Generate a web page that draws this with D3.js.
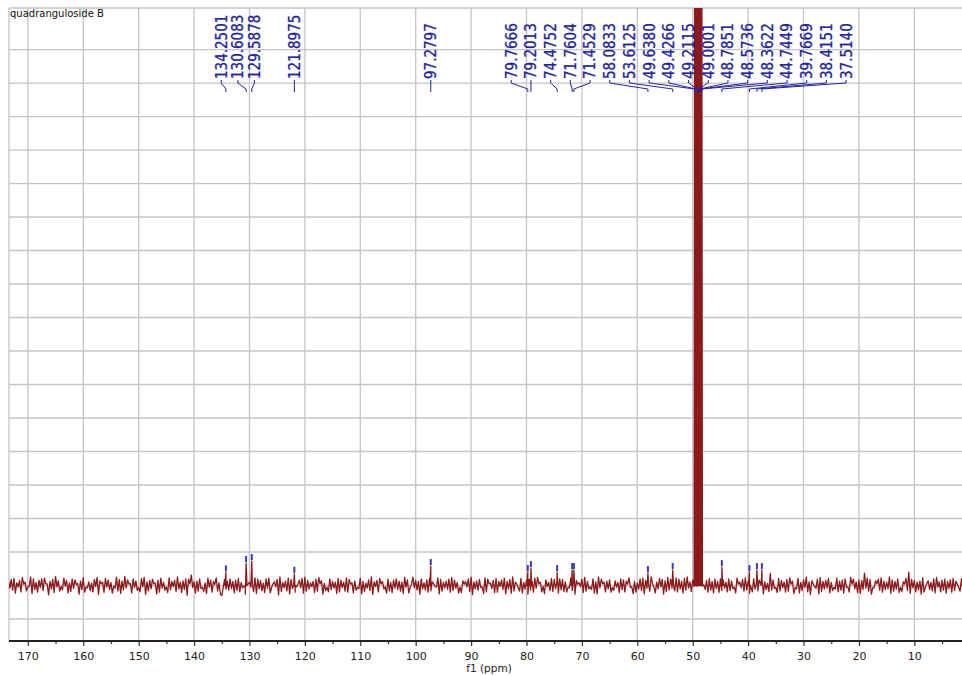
<!DOCTYPE html>
<html><head><meta charset="utf-8">
<script src="https://cdn.jsdelivr.net/npm/d3@7/dist/d3.min.js"></script>
<style>html,body{margin:0;padding:0;background:#fff;} svg{display:block;}</style>
</head><body>
<svg id="chart" width="962" height="676"></svg>
<script>
// ---------- DATA ----------
const chartTitle = "quadranguloside B";
const axisTitle = "f1 (ppm)";
const tickValues = [170,160,150,140,130,120,110,100,90,80,70,60,50,40,30,20,10];
const minorTickValues = [165,155,145,135,125,115,105,95,85,75,65,55,45,35,25,15,5];
const gridRows = [-1,0,1,2,3,4,5,6,7,8,9,10,11,12,13,14,15,16];

// labelled peaks (ppm) and their heights above the baseline (grid units)
const peakPPM = [134.2501,130.6083,129.5878,121.8975,97.2797,79.7666,79.2013,74.4752,71.7604,71.4529,58.0833,53.6125,44.7449,39.7669,38.4151,37.5140];
const peakHeight = [0.39,0.67,0.73,0.35,0.58,0.40,0.52,0.40,0.46,0.46,0.37,0.46,0.55,0.40,0.46,0.46];
// solvent (CD3OD) septet, far off scale
const solventPPM = [49.6380,49.4266,49.2115,49.0001,48.7851,48.5736,48.3622];
const solventHeight = [20,60,120,140,120,60,20];
// all printed peak labels, in the order shown
const labelPPM = [134.2501,130.6083,129.5878,121.8975,97.2797,79.7666,79.2013,74.4752,71.7604,71.4529,58.0833,53.6125,49.6380,49.4266,49.2115,49.0001,48.7851,48.5736,48.3622,44.7449,39.7669,38.4151,37.5140];
const labelText = ["134.2501","130.6083","129.5878","121.8975","97.2797","79.7666","79.2013","74.4752","71.7604","71.4529","58.0833","53.6125","49.6380","49.4266","49.2115","49.0001","48.7851","48.5736","48.3622","44.7449","39.7669","38.4151","37.5140"];
// baseline noise (grid units): one value every 0.5 ppm from 173.5 ppm ...
const noiseStart = 173.5, noiseStep = 0.5;
const noise = [
0.12,0.18,0.21,0.08,0.15,0.24,0.1,-0.04,0.26,0.2,0.09,0.16,0.2,0.22,0.05,0.12,0.18,0.27,0.14,-0.03,
0.22,0.15,0.08,0.2,0.17,0.06,0.13,0.23,-0.05,0.11,0.07,0.18,0.24,0.14,0.1,0.21,0.16,0.09,-0.02,0.25,
0.18,0.13,0.27,0.17,0.06,0.2,0.14,-0.06,0.21,0.24,0.11,0.15,0.19,0.07,0.16,0.22,0.09,-0.04,0.23,0.12,
0.15,0.26,0.1,0.14,0.2,0.19,0.31,0.11,0.13,0.2,-0.05,0.08,0.22,0.16,0.12,0.23,0.08,-0.3,0.18,0.13,
0.2,0.12,0.16,0.21,0.09,-0.03,0.25,0.1,0.14,0.23,0.19,0.15,0.07,0.2,0.22,-0.06,0.11,0.18,0.26,0.09,
0.13,0.22,0.18,0.11,-0.04,0.16,0.21,0.25,0.15,0.08,0.12,0.19,0.24,0.14,0.06,-0.05,0.2,0.12,0.1,0.21,
0.16,0.1,0.23,0.18,0.08,0.14,-0.05,0.22,0.12,0.07,0.17,0.26,0.11,0.15,0.21,0.12,-0.04,0.19,0.09,0.16,
0.2,0.13,0.1,0.24,0.17,-0.06,0.25,0.15,0.12,0.2,0.08,0.17,0.22,0.11,-0.03,0.23,0.18,0.1,0.13,0.19,
0.24,0.16,0.09,-0.05,0.14,0.12,0.2,0.25,0.11,0.14,0.18,-0.04,0.23,0.19,0.07,0.15,0.21,0.12,0.16,0.22,
0.12,0.18,0.26,0.1,-0.06,0.21,0.09,0.16,0.19,0.13,0.22,0.24,0.1,-0.03,0.17,0.09,0.21,0.18,0.13,0.2,
0.18,0.11,-0.05,0.23,0.2,0.15,0.08,0.19,0.24,0.12,-0.04,0.2,0.11,0.26,0.19,0.1,0.13,0.17,-0.06,0.14,
0.09,0.2,0.17,0.13,0.23,-0.04,0.12,0.08,0.2,0.22,0.15,0.11,0.26,-0.05,0.1,0.21,0.18,0.14,0.24,0.19,
0.14,0.23,0.19,0.12,0.21,0.26,0.11,0.17,0.05,0.04,0.03,0.02,0.15,0.21,0.12,0.19,0.12,0.2,0.17,0.1,
0.2,0.14,-0.05,0.22,0.1,0.18,0.23,0.12,-0.04,0.2,0.08,0.16,0.19,0.11,0.06,0.36,0.17,-0.05,0.21,0.15,
0.1,0.18,0.23,0.13,-0.06,0.21,0.09,0.17,0.25,0.11,0.14,-0.04,0.19,0.24,0.12,0.15,0.21,0.09,-0.05,0.22,
0.13,0.16,0.2,-0.04,0.24,0.19,0.11,0.17,0.15,0.37,0.22,0.18,-0.06,0.14,0.19,0.23,0.13,0.1,0.26,0.17,
0.12,0.2,-0.05,0.11,0.21,0.4,0.18,0.15,0.1,0.13,0.23,-0.04,0.14,0.09,0.2,0.24,0.11,0.16,0.19,0.12,
0.17,0.21,0.13,-0.05,0.2,0.15];
// ... and the in-between points, every 0.5 ppm from 173.25 ppm
const noiseMidStart = 173.25;
const noiseMid = [
-0.08,-0.14,-0.23,-0.05,-0.19,0.04,-0.16,-0.03,-0.24,-0.12,-0.2,-0.06,-0.15,0.05,-0.28,-0.1,-0.21,-0.04,-0.17,-0.13,
-0.02,-0.22,-0.18,-0.09,0.03,-0.26,-0.12,-0.2,-0.07,-0.15,-0.19,-0.03,-0.27,0.05,-0.21,-0.05,-0.12,-0.23,-0.08,-0.16,
-0.24,-0.13,-0.07,0.04,-0.22,-0.06,-0.15,-0.19,-0.04,-0.27,-0.16,-0.1,0.05,-0.25,-0.2,-0.08,-0.14,-0.21,-0.13,-0.03,
-0.18,-0.1,-0.21,-0.12,-0.29,0.05,-0.06,-0.23,-0.17,-0.09,-0.18,-0.24,-0.05,-0.2,0.03,-0.16,-0.26,-0.07,-0.11,-0.14,
-0.09,-0.22,-0.15,-0.19,-0.07,-0.26,0.04,-0.05,-0.18,-0.24,-0.1,-0.16,-0.21,-0.08,-0.22,0.05,-0.04,-0.28,-0.18,-0.06,
-0.16,-0.25,-0.09,-0.2,0.04,-0.06,-0.23,-0.17,-0.11,-0.04,-0.21,-0.17,0.05,-0.26,-0.15,-0.19,-0.12,-0.07,-0.24,-0.19,
-0.06,-0.17,-0.2,0.04,-0.22,-0.14,-0.09,-0.25,-0.18,-0.08,-0.15,-0.27,-0.03,-0.19,0.05,-0.1,-0.23,-0.16,-0.21,-0.08,
-0.12,-0.17,-0.24,-0.05,-0.22,0.04,-0.07,-0.13,-0.26,-0.1,-0.14,-0.2,-0.16,0.05,-0.05,-0.25,-0.17,-0.07,-0.11,-0.2,
-0.15,-0.08,-0.23,-0.21,0.04,-0.04,-0.18,-0.27,-0.1,-0.14,-0.06,-0.24,-0.19,0.05,-0.09,-0.21,-0.2,-0.03,-0.12,-0.25,
-0.1,-0.23,-0.16,0.04,-0.17,-0.22,-0.11,-0.26,-0.14,-0.2,-0.08,0.05,-0.19,-0.24,-0.03,-0.15,-0.18,-0.09,-0.22,-0.13,
-0.18,-0.2,-0.07,-0.15,-0.26,0.04,-0.04,-0.21,-0.17,-0.1,-0.12,-0.23,-0.25,-0.07,0.05,-0.19,-0.1,-0.2,-0.14,-0.05,
-0.21,-0.12,-0.19,0.04,-0.06,-0.24,-0.2,-0.11,-0.15,-0.25,-0.08,-0.17,0.05,-0.22,-0.1,-0.04,-0.26,-0.18,-0.13,-0.09,
-0.16,-0.19,-0.1,-0.22,-0.14,-0.08,-0.18,-0.03,-0.02,-0.01,-0.02,-0.12,-0.2,-0.14,-0.22,-0.09,-0.2,-0.15,-0.08,-0.19,
-0.15,-0.09,-0.22,0.04,-0.07,-0.17,-0.13,-0.24,-0.19,-0.11,-0.16,0.05,-0.25,-0.12,-0.18,-0.14,-0.09,-0.21,-0.16,-0.06,
-0.2,-0.17,0.04,-0.24,-0.1,-0.22,-0.15,-0.06,-0.19,-0.27,0.05,-0.08,-0.25,-0.18,-0.1,-0.07,-0.22,-0.15,-0.11,-0.19,
-0.14,-0.23,-0.05,-0.2,0.04,-0.1,-0.21,-0.24,-0.12,-0.08,-0.17,-0.26,-0.06,0.05,-0.14,-0.2,-0.12,-0.09,-0.23,-0.17,
-0.11,-0.21,-0.18,0.04,-0.15,-0.24,-0.07,-0.19,-0.13,-0.26,-0.2,0.05,-0.12,-0.16,-0.22,-0.05,-0.19,-0.14,-0.23,-0.09,
-0.2,-0.15,0.04,-0.17,-0.12];

// ---------- LAYOUT ----------
const plotLeft = 9, plotRight = 962, plotTop = 8, axisY = 641;
const specColor = "#8c1a1a", labelColor = "#2323a0", gridColor = "#c4c4c4";
const labelFont = "'DejaVu Sans Condensed', 'Liberation Sans', sans-serif";
const smallFont = "'DejaVu Sans', Verdana, sans-serif";
// label slots: groups of crowded labels laid out evenly (in ppm units)
const labelGroups = [{from:0,to:2,start:135.1,step:3.0},{from:5,to:22,start:82.76,step:3.556}];

const x = d3.scaleLinear().domain([173.4, 1.4]).range([plotLeft, plotRight]);
const y = d3.scaleLinear().domain([-1.657, 17.24]).range([axisY, plotTop]);

const svg = d3.select("#chart");
svg.append("defs").append("clipPath").attr("id","plotclip")
  .append("rect").attr("x",plotLeft).attr("y",plotTop).attr("width",plotRight-plotLeft).attr("height",axisY-plotTop);

// grid
const grid = svg.append("g").attr("stroke", gridColor).attr("stroke-width",1.3);
grid.selectAll("line.h").data(gridRows).join("line").attr("class","h")
  .attr("x1",plotLeft).attr("x2",plotRight).attr("y1",d=>y(d)).attr("y2",d=>y(d));
grid.selectAll("line.v").data(tickValues).join("line").attr("class","v")
  .attr("x1",d=>x(d)).attr("x2",d=>x(d)).attr("y1",plotTop).attr("y2",axisY);
grid.append("line").attr("x1",plotLeft).attr("x2",plotRight).attr("y1",plotTop).attr("y2",plotTop);
grid.append("line").attr("x1",plotLeft).attr("x2",plotLeft).attr("y1",plotTop).attr("y2",axisY);

// spectrum points
const pts = noise.map((v,i)=>({p: noiseStart - i*noiseStep, v}))
  .concat(noiseMid.map((v,i)=>({p: noiseMidStart - i*noiseStep, v})));
peakPPM.forEach((p,i)=>{ pts.push({p:p+0.15,v:0},{p:p,v:peakHeight[i]},{p:p-0.15,v:0}); });
solventPPM.forEach((p,i)=>{ pts.push({p:p+0.2,v:0},{p:p,v:solventHeight[i]},{p:p-0.2,v:0}); });
pts.sort((a,b)=>b.p-a.p);
const line = d3.line().x(d=>x(d.p)).y(d=>y(d.v));
svg.append("g").attr("clip-path","url(#plotclip)")
  .append("path").attr("d", line(pts)).attr("fill","none")
  .attr("stroke", specColor).attr("stroke-width",1.3).attr("stroke-linejoin","round");

// peak markers
svg.append("g").selectAll("rect").data(peakPPM).join("rect")
  .attr("x",d=>x(d)-1).attr("width",2)
  .attr("y",(d,i)=>y(peakHeight[i])-7).attr("height",6)
  .attr("fill","#3a3ab8");

// label positions
const labelX = labelPPM.map(p=>x(p));
labelGroups.forEach(g=>{ for(let k=g.from;k<=g.to;k++) labelX[k] = x(g.start - (k-g.from)*g.step); });

const lab = svg.append("g");
lab.selectAll("path").data(labelPPM).join("path")
  .attr("d",(p,i)=>`M${labelX[i]},80 L${labelX[i]},83 L${x(p)},89 L${x(p)},92`)
  .attr("fill","none").attr("stroke",labelColor).attr("stroke-width",1);
lab.selectAll("text").data(labelText).join("text")
  .attr("transform",(t,i)=>`translate(${labelX[i]},79) rotate(-90)`)
  .attr("dy","0.36em")
  .attr("font-family",labelFont).attr("font-size",15)
  .attr("fill",labelColor).attr("stroke",labelColor).attr("stroke-width",0.3)
  .text(t=>t);

// axis
const axisG = svg.append("g").attr("transform",`translate(0,${axisY})`);
axisG.call(d3.axisBottom(x).tickValues(tickValues).tickSize(5).tickPadding(6).tickFormat(d3.format("d")));
axisG.select(".domain").remove();
axisG.selectAll(".tick line").attr("stroke","#333").attr("stroke-width",1.2);
axisG.selectAll(".tick text").attr("font-family",smallFont).attr("font-size",11).attr("fill","#222");
const minorG = svg.append("g").attr("transform",`translate(0,${axisY})`);
minorG.call(d3.axisBottom(x).tickValues(minorTickValues).tickSize(3).tickFormat(""));
minorG.select(".domain").remove();
minorG.selectAll(".tick line").attr("stroke","#333").attr("stroke-width",1.2);
svg.append("line").attr("x1",plotLeft).attr("x2",plotRight).attr("y1",axisY).attr("y2",axisY)
  .attr("stroke","#222").attr("stroke-width",2);

svg.append("text").attr("x",489).attr("y",672).attr("text-anchor","middle")
  .attr("font-family",smallFont).attr("font-size",10.5).attr("fill","#222")
  .text(axisTitle);
svg.append("text").attr("x",10).attr("y",17)
  .attr("font-family",smallFont).attr("font-size",10).attr("fill","#111")
  .text(chartTitle);
</script>
</body></html>
